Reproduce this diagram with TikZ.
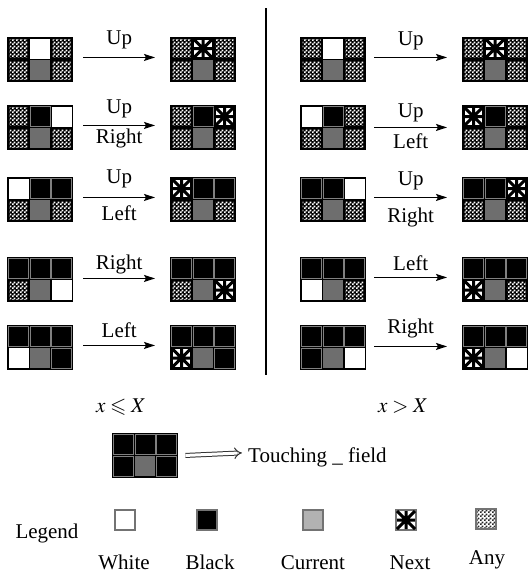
\documentclass[tikz,border=0pt]{standalone}
\usepackage{amssymb}
\usepackage{mathptmx}
\usepackage{fontspec}
\setmainfont{Liberation Serif}
\usetikzlibrary{arrows.meta,patterns}

\definecolor{curgray}{gray}{0.43}
\definecolor{sepgray}{gray}{0.50}
\definecolor{legcur}{gray}{0.70}
\definecolor{legedge}{gray}{0.45}

% fine dot texture used for "any" cells
\pgfdeclarepatternformonly{finechecker}{\pgfpointorigin}{\pgfqpoint{4pt}{4pt}}{\pgfqpoint{4pt}{4pt}}{%
  \pgfpathrectangle{\pgfqpoint{0pt}{0pt}}{\pgfqpoint{2pt}{2pt}}%
  \pgfpathrectangle{\pgfqpoint{2pt}{2pt}}{\pgfqpoint{2pt}{2pt}}%
  \pgfusepath{fill}}

% ---- single cells of a 3x2 neighbourhood (upper-left corner, 20pt square)
\newcommand\cellW[2]{\fill[white] (#1,#2) rectangle ++(20,20);}
\newcommand\cellK[2]{\fill[black] (#1,#2) rectangle ++(20,20);
  \draw[sepgray, line width=0.8pt] (#1,#2) rectangle ++(20,20);}
\newcommand\cellC[2]{\fill[curgray] (#1,#2) rectangle ++(20,20);}
\newcommand\cellA[2]{\fill[black] (#1,#2) rectangle ++(20,20);
  \fill[pattern=finechecker, pattern color=white] ({#1+1},{#2+1}) rectangle ++(18,18);}
\newcommand\nextmark[3]{% centre x, centre y, half size
  \begin{scope}[shift={(#1,#2)}]
    \draw[line width=3pt] (-#3,0) -- (#3,0) (0,-#3) -- (0,#3)
      (-#3,-#3) -- (#3,#3) (-#3,#3) -- (#3,-#3);
    \fill (0,0) circle (4);
  \end{scope}}
\newcommand\cellN[2]{\fill[white] (#1,#2) rectangle ++(20,20);
  \nextmark{#1+10}{#2+10}{10}
  \draw[line width=1.4pt] ({#1+0.7},{#2+0.7}) rectangle ++(18.6,18.6);}

% ---- a whole neighbourhood: name, left, top, six cell codes
\newcommand\tgrid[4]{%
  \node[gridbox, anchor=north west] (#1) at (#2,#3) {};
  \foreach \ctype [count=\ci from 0] in {#4} {%
    \pgfmathsetmacro\cx{#2+1.5+mod(\ci,3)*21.5}%
    \pgfmathsetmacro\cy{#3+1.5+floor(\ci/3)*21.5}%
    \csname cell\ctype\endcsname{\cx}{\cy}%
  }%
}

\begin{document}
\begin{tikzpicture}[x=1pt, y=-1pt,
  gridbox/.style={fill=black, draw=none, inner sep=0pt,
    minimum width=66pt, minimum height=44.5pt},
  lbl/.style={inner sep=0pt, font=\fontsize{21}{25}\selectfont},
  arr/.style={line width=1.2pt, -{Stealth[length=11pt, width=7pt, inset=2pt]}},
  dbl/.style={double, double distance=3pt, line width=1pt,
    draw=black!80, -{Implies[length=7pt]}},
  legbox/.style={draw=legedge, line width=1.3pt, minimum size=20pt, inner sep=0pt}]

\useasboundingbox (0,0) rectangle (528,573);

% ---------- left column: x <= X
\tgrid{L1a}{7}{37}{A,W,A,A,C,A}
\tgrid{L1b}{170}{37}{A,N,A,A,C,A}
\tgrid{L2a}{7}{105}{A,K,W,A,C,A}
\tgrid{L2b}{170}{105}{A,K,N,A,C,A}
\tgrid{L3a}{7}{177}{W,K,K,A,C,A}
\tgrid{L3b}{170}{177}{N,K,K,A,C,A}
\tgrid{L4a}{7}{257}{K,K,K,A,C,W}
\tgrid{L4b}{170}{257}{K,K,K,A,C,N}
\tgrid{L5a}{7}{325}{K,K,K,W,C,K}
\tgrid{L5b}{170}{325}{K,K,K,N,C,K}

\draw[arr] ([xshift=10pt,yshift=2pt]L1a.east) -- ([xshift=-15pt,yshift=2pt]L1b.west)
  node[midway, lbl, anchor=base, yshift=13pt] {Up};
\draw[arr] ([xshift=10pt,yshift=2pt]L2a.east) -- ([xshift=-15pt,yshift=2pt]L2b.west)
  node[midway, lbl, anchor=base, yshift=12pt] {Up}
  node[midway, lbl, anchor=base, yshift=-18pt] {Right};
\draw[arr] ([xshift=10pt,yshift=2pt]L3a.east) -- ([xshift=-15pt,yshift=2pt]L3b.west)
  node[midway, lbl, anchor=base, yshift=14pt] {Up}
  node[midway, lbl, anchor=base, yshift=-23pt] {Left};
\draw[arr] ([xshift=10pt,yshift=1pt]L4a.east) -- ([xshift=-15pt,yshift=1pt]L4b.west)
  node[midway, lbl, anchor=base, yshift=9pt] {Right};
\draw[arr] ([xshift=10pt,yshift=2pt]L5a.east) -- ([xshift=-15pt,yshift=2pt]L5b.west)
  node[midway, lbl, anchor=base, yshift=8pt] {Left};

% ---------- right column: x > X
\tgrid{R1a}{300}{37}{A,W,A,A,C,A}
\tgrid{R1b}{462}{37}{A,N,A,A,C,A}
\tgrid{R2a}{300}{105}{W,K,A,A,C,A}
\tgrid{R2b}{462}{105}{N,K,A,A,C,A}
\tgrid{R3a}{300}{177}{K,K,W,A,C,A}
\tgrid{R3b}{462}{177}{K,K,N,A,C,A}
\tgrid{R4a}{300}{257}{K,K,K,W,C,A}
\tgrid{R4b}{462}{257}{K,K,K,N,C,A}
\tgrid{R5a}{300}{325}{K,K,K,K,C,W}
\tgrid{R5b}{462}{325}{K,K,K,N,C,W}

\draw[arr] ([xshift=8pt,yshift=2pt]R1a.east) -- ([xshift=-15pt,yshift=2pt]R1b.west)
  node[midway, lbl, anchor=base, yshift=12pt] {Up};
\draw[arr] ([xshift=8pt,yshift=0pt]R2a.east) -- ([xshift=-15pt,yshift=0pt]R2b.west)
  node[midway, lbl, anchor=base, yshift=10pt] {Up}
  node[midway, lbl, anchor=base, yshift=-21pt] {Left};
\draw[arr] ([xshift=8pt,yshift=2pt]R3a.east) -- ([xshift=-15pt,yshift=2pt]R3b.west)
  node[midway, lbl, anchor=base, yshift=12pt] {Up}
  node[midway, lbl, anchor=base, yshift=-25pt] {Right};
\draw[arr] ([xshift=8pt,yshift=2pt]R4a.east) -- ([xshift=-15pt,yshift=2pt]R4b.west)
  node[midway, lbl, anchor=base, yshift=7pt] {Left};
\draw[arr] ([xshift=8pt,yshift=1pt]R5a.east) -- ([xshift=-15pt,yshift=1pt]R5b.west)
  node[midway, lbl, anchor=base, yshift=13pt] {Right};

% ---------- divider and conditions
\draw[line width=2.5pt] (266,8) -- (266,375);
\node[lbl, anchor=base] (condL) at (121,412) {$x \leqslant X$};
\node[lbl, anchor=base] (condR) at (403,412) {$x > X$};

% ---------- touching field
\tgrid{tf}{112}{433}{K,K,K,K,C,K}
\node[lbl, anchor=base west] (tft) at (248,462) {Touching \_ field};
\draw[dbl] ([xshift=7pt]tf.east) -- ([xshift=-6pt,yshift=4pt]tft.west);

% ---------- legend
\node[lbl, anchor=base] (leg) at (47,538) {Legend};
\node[legbox, fill=white]  (lw) at (125,520) {};
\node[legbox, fill=black]  (lk) at (207,520) {};
\node[legbox, fill=legcur] (lc) at (313,520) {};
\node[legbox, fill=white]  (ln) at (406,520) {};
\nextmark{406}{520}{9}
\draw[legedge, line width=1.3pt] (ln.north west) rectangle (ln.south east);
\node[legbox, fill=white, pattern=finechecker, pattern color=black!85] (la) at (486,519) {};
\draw[legedge, line width=1.3pt] (la.north west) rectangle (la.south east);

\node[lbl, anchor=base] at (124,569) {White};
\node[lbl, anchor=base] at (210,569) {Black};
\node[lbl, anchor=base] at (313,569) {Current};
\node[lbl, anchor=base] at (410,569) {Next};
\node[lbl, anchor=base] at (487,564) {Any};
\end{tikzpicture}
\end{document}
